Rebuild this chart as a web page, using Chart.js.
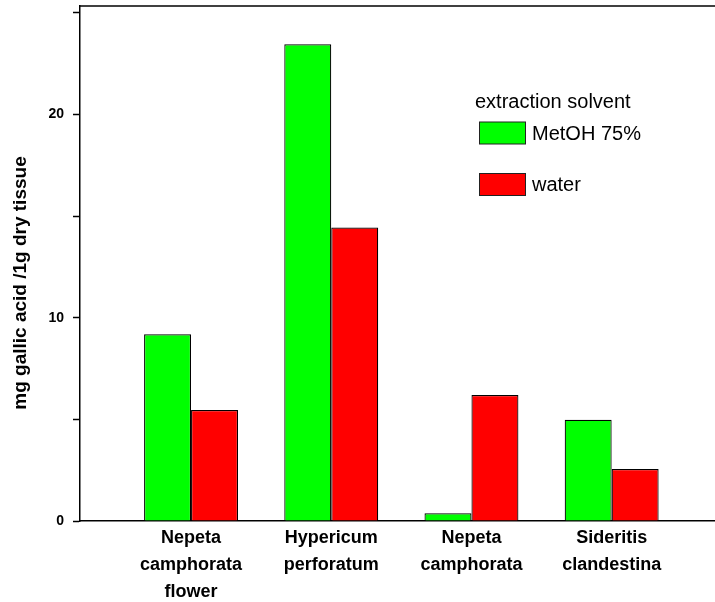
<!DOCTYPE html>
<html>
<head>
<meta charset="utf-8">
<script src="https://cdn.jsdelivr.net/npm/chart.js@4.4.1/dist/chart.umd.min.js"></script>
<style>
	html, body { margin: 0; padding: 0; background: #fff; overflow: hidden; }
	#wrap { width: 715px; height: 602px; position: relative; }
</style>
</head>
<body>
<div id="wrap"><canvas id="phenolics"></canvas></div>
<script>
( function () {
	'use strict';

	var categories = [
		[ 'Nepeta', 'camphorata', 'flower' ],
		[ 'Hypericum', 'perforatum' ],
		[ 'Nepeta', 'camphorata' ],
		[ 'Sideritis', 'clandestina' ],
	];
	var metoh = [ 9.18, 23.45, 0.38, 4.98 ];
	var water = [ 5.46, 14.43, 6.2, 2.56 ];
	var seriesNames = [ 'MetOH 75%', 'water' ];
	var yTicks = [ 0, 5, 10, 15, 20, 25 ];
	var legendTitle = 'extraction solvent';
	var yTitle = 'mg gallic acid /1g dry tissue';

	var fontFam = '"Liberation Sans", Arial, sans-serif';

	function points( vals ) {
		return vals.map( function ( v, i ) {
			return { x: i + 1, y: v };
		} );
	}

	// legend box, top frame line and rotated y title
	var decor = {
		id: 'decor',
		afterDraw: function ( chart ) {
			var ctx = chart.ctx;
			var area = chart.chartArea;
			ctx.save();

			ctx.strokeStyle = '#000';
			ctx.lineWidth = 1.5;
			ctx.beginPath();
			ctx.moveTo( area.left, area.top );
			ctx.lineTo( chart.width, area.top );
			ctx.stroke();

			ctx.fillStyle = '#000';
			ctx.textBaseline = 'middle';
			ctx.font = '20px ' + fontFam;
			ctx.fillText( legendTitle, 475, 102 );
			chart.data.datasets.forEach( function ( ds, i ) {
				var y = 122 + i * 51.5;
				ctx.fillStyle = ds.backgroundColor;
				ctx.fillRect( 479.5, y, 46, 22 );
				ctx.strokeStyle = '#222';
				ctx.lineWidth = 1;
				ctx.strokeRect( 479.5, y, 46, 22 );
				ctx.fillStyle = '#000';
				ctx.fillText( ds.label, 532, y + 12 );
			} );

			ctx.translate( 21, 283 );
			ctx.rotate( -Math.PI / 2 );
			ctx.textAlign = 'center';
			ctx.font = 'bold 19px ' + fontFam;
			ctx.fillText( yTitle, 0, 0 );
			ctx.restore();
		},
	};

	new Chart( document.getElementById( 'phenolics' ), {
		type: 'bar',
		data: {
			datasets: [ {
				label: seriesNames[ 0 ],
				data: points( metoh ),
				backgroundColor: '#00ff00',
				borderColor: '#000',
				borderWidth: 1.2,
			}, {
				label: seriesNames[ 1 ],
				data: points( water ),
				backgroundColor: '#ff0000',
				borderColor: '#000',
				borderWidth: 1.2,
			} ],
		},
		options: {
			responsive: true,
			maintainAspectRatio: false,
			animation: false,
			devicePixelRatio: 1,
			barPercentage: 1,
			categoryPercentage: 0.67,
			layout: { padding: { top: 6, right: 0, left: 0, bottom: 0 } },
			plugins: {
				legend: { display: false },
				tooltip: { enabled: false },
			},
			scales: {
				x: {
					type: 'linear',
					min: 0.208,
					max: 4.737,
					offset: false,
					grid: { display: false, drawTicks: false, offset: false },
					border: { color: '#000', width: 1.5 },
					afterBuildTicks: function ( s ) {
						s.ticks = categories.map( function ( c, i ) {
							return { value: i + 1 };
						} );
					},
					afterFit: function ( s ) {
						s.height = 81;
						s.paddingLeft = 0;
						s.paddingRight = 0;
					},
					ticks: {
						autoSkip: false,
						maxRotation: 0,
						padding: 4,
						color: '#000',
						font: { family: fontFam, size: 18, weight: 'bold', lineHeight: 1.5 },
						callback: function ( v ) {
							return categories[ v - 1 ];
						},
					},
				},
				y: {
					min: 0,
					max: 25.33,
					grid: { drawOnChartArea: false, tickLength: 7, tickColor: '#000', tickWidth: 1.5 },
					border: { color: '#000', width: 1.5 },
					afterBuildTicks: function ( s ) {
						s.ticks = yTicks.map( function ( v ) {
							return { value: v };
						} );
					},
					afterFit: function ( s ) {
						s.width = 80;
						s.paddingTop = 0;
						s.paddingBottom = 0;
					},
					ticks: {
						padding: 9,
						color: '#000',
						font: { family: fontFam, size: 14, weight: 'bold' },
						callback: function ( v ) {
							return v % 10 === 0 ? v : '';
						},
					},
				},
			},
		},
		plugins: [ decor ],
	} );
} )();
</script>
</body>
</html>
